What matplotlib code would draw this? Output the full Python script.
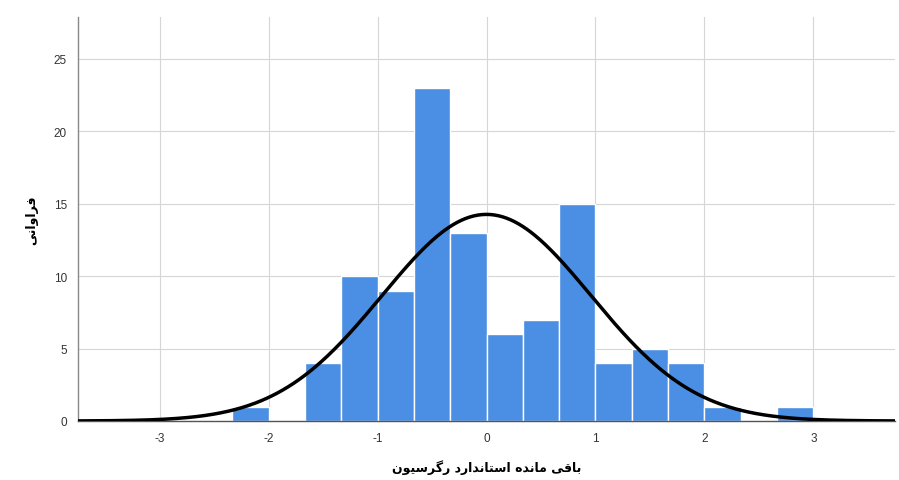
import numpy as np
import matplotlib
matplotlib.use("Agg")
import matplotlib.pyplot as plt

# Data
bin_edges_thirds = list(range(-7, 10))  # edges in units of 1/3
counts = [1, 0, 4, 10, 9, 23, 13, 6, 7, 15, 4, 5, 4, 1, 0, 1]
curve_mean = 0.0
curve_sd = 0.96
n_total = 103
xticks = [-3, -2, -1, 0, 1, 2, 3]
yticks = [0, 5, 10, 15, 20, 25]

# Persian labels (presentation forms, visual order)
xlabel_txt = ("\uFEE5\uFEEE\uFEF4\uFEB3\uFEAE\uFB94\uFEAD" + " " +
              "\uFEA9\uFEAD\uFE8D\uFEAA\uFEE7\uFE8E\uFE98\uFEB3\uFE8D" + " " +
              "\uFEE9\uFEAA\uFEE7\uFE8E\uFEE3" + " " +
              "\uFEF0\uFED7\uFE8E\uFE91")
ylabel_txt = "\uFEF0\uFEE7\uFE8D\uFEED\uFE8D\uFEAE\uFED3"

edges = np.array(bin_edges_thirds) / 3.0
width = edges[1] - edges[0]

fig = plt.figure(figsize=(8.99, 4.81), dpi=100)
ax = fig.add_axes([78/899, 1 - 422/481, (895-78)/899, (422-18)/481])

ax.set_axisbelow(True)
ax.grid(True, color='#d6d6d6', linewidth=0.8)
ax.bar(edges[:-1], counts, width=width, align='edge', color='#4a8fe3',
       edgecolor='white', linewidth=1.0, zorder=2)

xs = np.linspace(-3.75, 3.75, 600)
ys = n_total * width / (curve_sd * np.sqrt(2 * np.pi)) * np.exp(-0.5 * ((xs - curve_mean) / curve_sd) ** 2)
ax.plot(xs, ys, color='black', linewidth=2.5, zorder=3, solid_capstyle='butt')

ax.set_xlim(-3.75, 3.75)
ax.set_ylim(0, 27.9)
ax.set_xticks(xticks)
ax.set_yticks(yticks)
ax.set_xticklabels([str(t) for t in xticks], family='Liberation Sans')
ax.set_yticklabels([str(t) for t in yticks], family='Liberation Sans')
ax.tick_params(length=0, labelsize=8.5, labelcolor='#333333', pad=8)

for s in ['top', 'right']:
    ax.spines[s].set_visible(False)
ax.spines['left'].set_color('#888888')
ax.spines['bottom'].set_color('#555555')
ax.spines['left'].set_linewidth(1.0)
ax.spines['bottom'].set_linewidth(1.0)

ax.set_xlabel(xlabel_txt, fontsize=9, fontweight='bold', labelpad=11, family='DejaVu Sans')
ax.set_ylabel(ylabel_txt, fontsize=9, fontweight='bold', labelpad=11, family='DejaVu Sans')

fig.savefig('out.png', dpi=100)
